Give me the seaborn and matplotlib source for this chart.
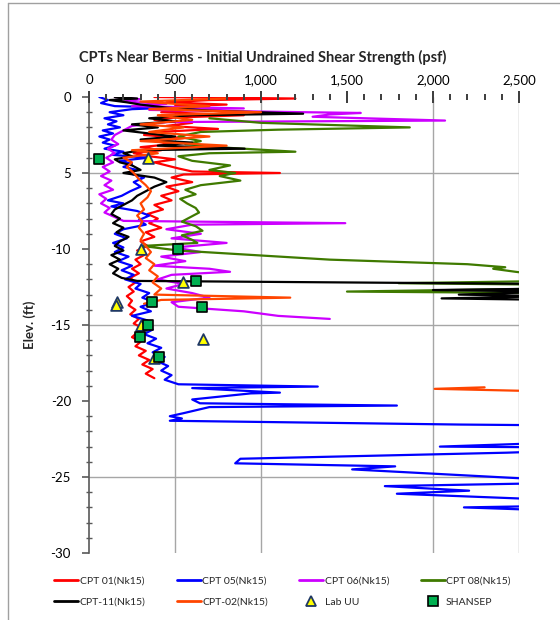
import matplotlib
matplotlib.use("Agg")
import matplotlib.pyplot as plt
from matplotlib.lines import Line2D
from matplotlib.ticker import MultipleLocator, FixedLocator
import seaborn as sns
import pandas as pd

# ---------------------------------------------------------------------------
# CPT profiles: (elevation ft, undrained shear strength psf)
# ---------------------------------------------------------------------------
cpt01 = [(0.0, 380), (-0.1, 1200), (-0.2, 700), (-0.35, 450), (-0.5, 800), (-0.6, 500),
         (-0.8, 650), (-1.0, 420), (-1.2, 900), (-1.35, 500), (-1.5, 380), (-1.7, 600),
         (-1.9, 450), (-2.1, 750), (-2.3, 400), (-2.5, 320), (-2.7, 550), (-2.9, 380),
         (-3.1, 480), (-3.3, 300), (-3.5, 420), (-3.7, 260), (-3.9, 350), (-4.1, 500),
         (-4.3, 380), (-4.5, 450), (-4.7, 520), (-4.9, 600), (-5.0, 1110), (-5.1, 550),
         (-5.3, 480), (-5.6, 600), (-5.9, 450), (-6.2, 520), (-6.5, 420), (-6.8, 480),
         (-7.1, 380), (-7.4, 430), (-7.7, 340), (-8.0, 400), (-8.3, 350), (-8.6, 420),
         (-8.9, 330), (-9.2, 380), (-9.5, 300), (-9.8, 340), (-10.1, 280), (-10.4, 320),
         (-10.7, 270), (-11.0, 300), (-11.3, 250), (-11.6, 290), (-11.9, 240), (-12.2, 270),
         (-12.5, 230), (-12.8, 260), (-13.1, 220), (-13.4, 250), (-13.7, 230), (-14.0, 270),
         (-14.3, 240), (-14.6, 290), (-14.9, 260), (-15.2, 310), (-15.5, 280), (-15.8, 250),
         (-16.1, 300), (-16.4, 270), (-16.7, 330), (-17.0, 290), (-17.3, 350), (-17.6, 310),
         (-17.9, 370), (-18.2, 330), (-18.5, 380)]

cpt05 = [(0.0, 60), (-0.2, 110), (-0.4, 70), (-0.6, 150), (-0.7, 490), (-0.8, 250),
         (-1.0, 120), (-1.2, 200), (-1.4, 90), (-1.6, 160), (-1.8, 110), (-2.0, 180),
         (-2.2, 80), (-2.4, 140), (-2.6, 60), (-2.8, 120), (-3.0, 80), (-3.2, 150),
         (-3.4, 90), (-3.6, 200), (-3.8, 130), (-4.0, 340), (-4.2, 180), (-4.4, 250),
         (-4.6, 200), (-4.8, 280), (-5.0, 230), (-5.3, 320), (-5.6, 260), (-5.9, 300),
         (-6.2, 240), (-6.5, 190), (-6.8, 110), (-7.0, 200), (-7.2, 130), (-7.5, 280),
         (-7.8, 350), (-8.1, 290), (-8.4, 330), (-8.7, 200), (-9.0, 150), (-9.3, 220),
         (-9.6, 140), (-9.9, 200), (-10.2, 150), (-10.5, 230), (-10.8, 170), (-11.1, 250),
         (-11.4, 190), (-11.7, 260), (-12.0, 210), (-12.3, 300), (-12.6, 270), (-12.9, 350),
         (-13.2, 310), (-13.5, 380), (-13.8, 300), (-14.1, 360), (-14.4, 250), (-14.7, 340),
         (-15.0, 300), (-15.3, 370), (-15.6, 320), (-15.9, 390), (-16.2, 340), (-16.5, 420),
         (-16.8, 370), (-17.1, 440), (-17.4, 400), (-17.7, 460), (-18.0, 420), (-18.3, 480),
         (-18.6, 440), (-18.9, 520), (-19.05, 1330), (-19.15, 600), (-19.45, 1110),
         (-19.5, 940), (-19.9, 600), (-20.15, 645), (-20.3, 1790), (-20.4, 700),
         (-20.8, 550), (-21.0, 470), (-21.15, 540), (-21.3, 470), (-21.55, 2160),
         (-21.6, 2700), (-22.75, 2700), (-23.0, 2040), (-23.05, 2700), (-23.3, 2700),
         (-23.4, 2430), (-23.8, 880), (-24.1, 850), (-24.3, 1780), (-24.5, 1530),
         (-25.2, 2700), (-25.4, 2700), (-25.6, 1720), (-25.9, 2210), (-26.1, 1790),
         (-26.5, 2700), (-26.9, 2700), (-27.0, 2180), (-27.2, 2700)]

cpt06 = [(0.0, 150), (-0.15, 300), (-0.3, 200), (-0.45, 450), (-0.6, 250), (-0.75, 900),
         (-0.85, 350), (-1.0, 1250), (-1.05, 1580), (-1.15, 1400), (-1.3, 1300),
         (-1.55, 2070), (-1.65, 450), (-1.9, 250), (-2.2, 200), (-2.5, 150), (-2.8, 130),
         (-3.1, 170), (-3.4, 110), (-3.7, 150), (-4.0, 100), (-4.3, 140), (-4.6, 80),
         (-4.9, 120), (-5.2, 70), (-5.5, 130), (-5.8, 90), (-6.1, 140), (-6.4, 60),
         (-6.7, 100), (-7.0, 70), (-7.3, 120), (-7.6, 90), (-7.9, 150), (-8.15, 200),
         (-8.3, 1490), (-8.4, 600), (-8.7, 450), (-9.0, 650), (-9.3, 480), (-9.6, 800),
         (-9.9, 500), (-10.2, 650), (-10.5, 420), (-10.8, 560), (-11.1, 380), (-11.3, 700),
         (-11.5, 820), (-11.7, 480), (-12.0, 400), (-12.3, 550), (-12.6, 450), (-12.9, 600),
         (-13.2, 700), (-13.5, 480), (-13.8, 520), (-14.1, 900), (-14.4, 1100), (-14.6, 1400)]

cpt08 = [(-1.4, 700), (-1.7, 1000), (-2.0, 1865), (-2.15, 1100), (-2.3, 650), (-2.6, 520),
         (-2.9, 650), (-3.1, 560), (-3.35, 820), (-3.6, 1200), (-3.7, 700), (-3.9, 520),
         (-4.2, 600), (-4.5, 820), (-4.8, 700), (-5.0, 850), (-5.2, 760), (-5.5, 880),
         (-5.8, 650), (-6.1, 560), (-6.4, 620), (-6.7, 530), (-7.0, 570), (-7.3, 620),
         (-7.6, 640), (-7.9, 590), (-8.2, 540), (-8.5, 620), (-8.8, 660), (-9.1, 540),
         (-9.4, 600), (-9.6, 630), (-9.8, 310), (-10.1, 520), (-10.7, 1400), (-11.0, 2200),
         (-11.2, 2420), (-11.3, 2350), (-11.5, 2480), (-11.8, 2700), (-12.1, 2700),
         (-12.25, 1800), (-12.35, 2700), (-12.6, 2700), (-12.8, 1500), (-12.9, 2700)]

cpt11 = [(0.0, 150), (-0.1, 280), (-0.2, 120), (-0.35, 220), (-0.5, 300), (-0.7, 450),
         (-0.9, 700), (-1.1, 1245), (-1.2, 600), (-1.4, 350), (-1.6, 500), (-1.8, 250),
         (-2.0, 400), (-2.2, 200), (-2.4, 350), (-2.6, 500), (-2.8, 300), (-3.0, 600),
         (-3.2, 400), (-3.4, 905), (-3.5, 300), (-3.7, 200), (-3.9, 250), (-4.1, 150),
         (-4.3, 180), (-4.5, 250), (-4.8, 300), (-5.0, 200), (-5.3, 380), (-5.6, 450),
         (-5.9, 380), (-6.2, 330), (-6.5, 280), (-6.8, 250), (-7.1, 200), (-7.4, 150),
         (-7.7, 130), (-8.0, 180), (-8.3, 140), (-8.6, 200), (-8.9, 160), (-9.2, 230),
         (-9.5, 180), (-9.8, 150), (-10.1, 200), (-10.4, 130), (-10.7, 180), (-11.0, 120),
         (-11.3, 170), (-11.6, 140), (-11.9, 190), (-12.1, 280), (-12.3, 2700),
         (-12.6, 2700), (-12.7, 2000), (-12.8, 2700), (-13.0, 2150), (-13.1, 2700),
         (-13.25, 2050), (-13.35, 2700)]

cpt02_upper = [(-0.1, 800), (-0.3, 300), (-0.6, 700), (-0.8, 350), (-1.0, 1000), (-1.2, 400),
               (-1.5, 600), (-1.8, 300), (-2.0, 550), (-2.3, 350), (-2.6, 700), (-2.9, 300),
               (-3.2, 800), (-3.5, 250), (-3.7, 400), (-4.0, 200), (-4.3, 250), (-4.6, 220),
               (-5.0, 260), (-5.4, 290), (-5.8, 330), (-6.2, 360), (-6.6, 340), (-7.0, 300),
               (-7.4, 320), (-7.8, 280), (-8.2, 310), (-8.6, 290), (-9.0, 320), (-9.4, 300),
               (-9.8, 330), (-10.2, 360), (-10.6, 330), (-11.0, 380), (-11.4, 350),
               (-11.8, 400), (-12.2, 370), (-12.6, 420), (-13.0, 380), (-13.2, 1170),
               (-13.35, 420), (-13.6, 320)]
cpt02_lower = [(-19.1, 2300), (-19.2, 2010), (-19.35, 2600)]

# Laboratory and SHANSEP estimates: (elevation ft, psf)
lab_uu = [(-4.0, 345), (-10.0, 300), (-12.2, 545), (-13.5, 165), (-13.7, 155),
          (-15.0, 300), (-15.9, 660), (-17.2, 380)]
shansep = [(-4.1, 58), (-10.0, 517), (-12.1, 622), (-13.5, 366), (-13.8, 657),
           (-15.0, 343), (-15.8, 296), (-17.1, 407)]

series_names = ["CPT 01(Nk15)", "CPT 05(Nk15)", "CPT 06(Nk15)", "CPT 08(Nk15)",
                "CPT-11(Nk15)", "CPT-02(Nk15)"]
series_colors = ["#FF0000", "#0000FF", "#CC00FF", "#3F7A00", "#000000", "#FF4500"]

x_ticks = [0, 500, 1000, 1500, 2000, 2500]
x_tick_labels = ["0", "500", "1,000", "1,500", "2,000", "2,500"]
y_ticks = [0, -5, -10, -15, -20, -25, -30]
y_tick_labels = ["0", "5", "-10", "-15", "-20", "-25", "-30"]
grid_x = [500, 1000, 2000, 2500]
grid_y = [-5, -15, -25]


def frame(name, segments):
    rows = []
    for seg_id, seg in enumerate(segments):
        for elev, su in seg:
            rows.append({"series": name, "segment": seg_id, "elev": elev, "su": su})
    return pd.DataFrame(rows)


profiles = [
    frame(series_names[0], [cpt01]),
    frame(series_names[1], [cpt05]),
    frame(series_names[2], [cpt06]),
    frame(series_names[3], [cpt08]),
    frame(series_names[4], [cpt11]),
    frame(series_names[5], [cpt02_upper, cpt02_lower]),
]

sns.set_theme(style="white")
plt.rcParams["font.family"] = ["Lato", "DejaVu Sans"]

fig = plt.figure(figsize=(5.6, 6.2), dpi=100)
ax = fig.add_axes([89 / 560, 1 - 553 / 620, 430 / 560, 456 / 620])

for gx in grid_x:
    ax.axvline(gx, color="#A6A6A6", lw=1.0, zorder=0)
for gy in grid_y:
    ax.axhline(gy, color="#A6A6A6", lw=1.0, zorder=0)

for df, color in zip(profiles, series_colors):
    sns.lineplot(data=df, x="su", y="elev", units="segment", estimator=None,
                 sort=False, color=color, lw=1.6, ax=ax, legend=False, zorder=2)

uu_df = pd.DataFrame(lab_uu, columns=["elev", "su"])
sh_df = pd.DataFrame(shansep, columns=["elev", "su"])
sns.scatterplot(data=uu_df, x="su", y="elev", marker="^", s=60, color="#FFFF00",
                edgecolor="#1F3864", linewidth=1.3, ax=ax, zorder=4, legend=False)
sns.scatterplot(data=sh_df, x="su", y="elev", marker="s", s=55, color="#00B050",
                edgecolor="#000000", linewidth=1.2, ax=ax, zorder=5, legend=False)

ax.set_xlim(0, 2500)
ax.set_ylim(-30, 0)
ax.set_xlabel("")
ax.set_ylabel("")

for side in ["top", "right", "bottom"]:
    ax.spines[side].set_visible(False)
ax.spines["left"].set_color("#595959")
ax.spines["left"].set_linewidth(1.2)

# elevation axis
ax.yaxis.set_major_locator(FixedLocator(y_ticks))
ax.yaxis.set_minor_locator(MultipleLocator(1))
ax.set_yticklabels(y_tick_labels)
ax.tick_params(axis="y", which="major", left=True, direction="out", length=5,
               width=1.2, color="#595959", labelsize=9.5, pad=8, labelcolor="#000000")
ax.tick_params(axis="y", which="minor", left=True, direction="inout", length=4,
               width=1.0, color="#595959")

# value axis along the top, with minor marks every 100 psf
ax.xaxis.set_major_locator(FixedLocator(x_ticks))
ax.xaxis.set_minor_locator(MultipleLocator(100))
ax.set_xticklabels(x_tick_labels)
ax.xaxis.set_ticks_position("top")
ax.tick_params(axis="x", which="major", direction="inout", length=8,
               width=1.4, color="#404040", labelsize=9.5, pad=4, labelcolor="#000000")
ax.tick_params(axis="x", which="minor", direction="inout", length=4,
               width=1.3, color="#404040")
ax.set_axisbelow(False)

# tick marks along the top edge, placed at the axis locator positions
top_edge = ax.get_xaxis_transform()
major_locs = [v for v in ax.xaxis.get_majorticklocs() if 0 <= v <= 2500]
minor_locs = [v for v in ax.xaxis.get_minorticklocs() if 0 <= v <= 2500]
ax.plot(minor_locs, [1.0] * len(minor_locs), transform=top_edge, ls="none",
        marker="|", markersize=4, markeredgewidth=1.3, color="#404040",
        clip_on=False, zorder=6)
ax.plot(major_locs, [1.0] * len(major_locs), transform=top_edge, ls="none",
        marker="|", markersize=8, markeredgewidth=1.4, color="#404040",
        clip_on=False, zorder=6)

fig.text(263 / 560, 1 - 57 / 620,
         "CPTs Near Berms - Initial Undrained Shear Strength (psf)",
         ha="center", va="center", fontsize=10.5, fontweight="bold")
fig.text(30 / 560, 1 - 325 / 620, "Elev. (ft)", rotation=90, ha="center",
         va="center", fontsize=9.5, fontweight="bold")

# chart area border
fig.add_artist(Line2D([8 / 560, 8 / 560], [0, 1 - 3 / 620], transform=fig.transFigure,
                      color="#A0A0A0", lw=1.0))
fig.add_artist(Line2D([8 / 560, 1], [1 - 3 / 620, 1 - 3 / 620], transform=fig.transFigure,
                      color="#A0A0A0", lw=1.0))

line_handles = [Line2D([], [], color=c, lw=2.0) for c in series_colors]
uu_handle = Line2D([], [], ls="none", marker="^", markersize=7,
                   markerfacecolor="#FFFF00", markeredgecolor="#1F3864", markeredgewidth=1.3)
sh_handle = Line2D([], [], ls="none", marker="s", markersize=7,
                   markerfacecolor="#00B050", markeredgecolor="#000000", markeredgewidth=1.2)

handles = [line_handles[0], line_handles[4], line_handles[1], line_handles[5],
           line_handles[2], uu_handle, line_handles[3], sh_handle]
labels = [series_names[0], series_names[4], series_names[1], series_names[5],
          series_names[2], "Lab UU", series_names[3], "SHANSEP"]
fig.legend(handles, labels, ncol=4, loc="upper left",
           bbox_to_anchor=(50 / 560, 1 - 572 / 620), frameon=False, fontsize=7.5,
           handlelength=2.3, handletextpad=0.15, columnspacing=3.0, labelspacing=1.15,
           borderaxespad=0)

fig.savefig("out.png", dpi=100)
